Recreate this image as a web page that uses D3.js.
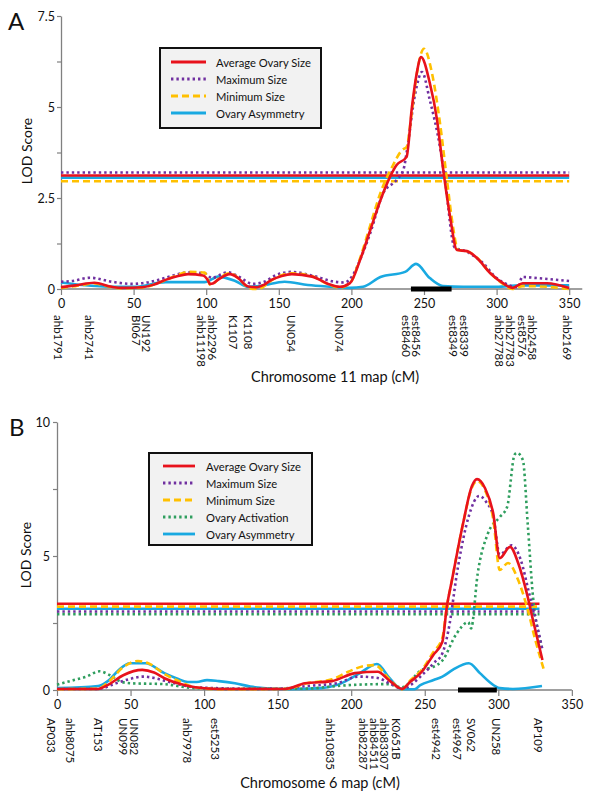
<!DOCTYPE html>
<html><head><meta charset="utf-8">
<script src="https://cdn.jsdelivr.net/npm/d3@7"></script>
<style>
body{margin:0;background:#fff;}
text{font-family:Lato,"Open Sans",sans-serif;fill:#111;}
</style></head>
<body><svg id="chart" width="600" height="800"></svg>
<script>
// ---------------- DATA ----------------
// Panel A: Chromosome 11
const aAvgSize = [[0,0.05],[10,0.1],[23,0.17],[35,0.06],[42,0.03],[56,0.05],[64,0.12],[72,0.25],[80,0.35],[87.5,0.41],[97.8,0.37],[101,0.25],[102.6,0.14],[105,0.16],[108,0.25],[116.4,0.41],[122,0.3],[128.8,0.07],[135,0.05],[140,0.12],[145,0.25],[152,0.36],[159,0.41],[173,0.34],[184,0.14],[192,0.06],[199,0.16],[206,0.8],[213,1.62],[220,2.44],[226.6,3.08],[231,3.4],[238,3.63],[241.7,5.0],[245,5.93],[248,6.37],[254,5.66],[259,4.64],[263,3.35],[268,1.98],[272.7,1.07],[279.6,1.04],[286.5,0.85],[295.5,0.44],[304.4,0.16],[311,0.03],[318,0.16],[334.7,0.16],[350,0.03]];
const aMaxSize = [[0,0.2],[8,0.22],[20,0.31],[35,0.2],[49,0.14],[58,0.17],[67,0.25],[78,0.38],[87.5,0.46],[99,0.43],[104,0.3],[109,0.38],[115,0.46],[122,0.35],[132,0.14],[140,0.2],[148,0.38],[159,0.47],[172,0.38],[188.7,0.2],[195,0.18],[201,0.38],[207,0.9],[213,1.54],[222,2.64],[231,2.99],[236,3.3],[238,3.74],[244,5.38],[248.6,5.96],[254,5.19],[261,3.9],[264.5,2.99],[271,1.15],[279.6,1.02],[290.6,0.71],[300,0.3],[309,0.1],[315,0.05],[317.5,0.33],[328,0.3],[350,0.22]];
const aMinSize = [[0,0.03],[10,0.08],[23,0.15],[35,0.05],[42,0.02],[56,0.04],[64,0.12],[73.7,0.27],[80,0.38],[87.5,0.47],[99,0.45],[101,0.28],[102.6,0.12],[105,0.15],[108,0.26],[116.4,0.43],[122,0.3],[128.8,0.04],[132,0.0],[136,0.0],[145,0.24],[152,0.38],[159,0.43],[173,0.35],[184,0.13],[192,0.04],[199,0.16],[206,0.85],[213,1.75],[220,2.64],[228,3.35],[235,3.82],[238,3.9],[241.7,4.9],[245,5.9],[250,6.6],[255.5,5.93],[261,4.56],[265.8,3.0],[270,1.7],[273.4,1.07],[279.6,1.04],[286.5,0.86],[295.5,0.44],[304.4,0.14],[311,0.0],[318,0.08],[334.7,0.06],[350,0.0]];
const aAsym = [[0,0.18],[14.6,0.11],[37,0.06],[51,0.06],[72,0.19],[99,0.19],[104,0.27],[108,0.34],[120,0.22],[129,0.06],[138,0.09],[154,0.2],[170,0.11],[186.6,0.06],[199,0.03],[208,0.06],[220,0.33],[237,0.47],[244.5,0.69],[254,0.3],[263,0.08],[277,0.06],[300,0.06],[316,0.1],[350,0.1]];
const aThresholds = {avg:3.12, max:3.2, min:2.96, asym:3.06};
const aThresholdEnd = 350;
const aInterval = [241, 269];
const aMarkerPos = [-2, 19.3, 55.4, 100.5, 118.5, 128.8, 159, 191.5, 241.4, 274, 305.8, 321.3, 348.5];
const aMarkerNames = [["ahb1791"],["ahb2741"],["UN192","BI067"],["ahb2296","ahb11198"],["K1107"],["K1108"],["UN054"],["UN074"],["est8456","est8460"],["est8339","est8349"],["ahb27783","ahb27788"],["ahb2458","est8576"],["ahb2169"]];
const aYTicks = [0,1.25,2.5,3.75,5,6.25,7.5];
const aYLabels = ["0","","2.5","","5","","7.5"];
const xTicks = [0,50,100,150,200,250,300,350];

// Panel B: Chromosome 6
const bAvgSize = [[0,0.04],[28,0.04],[35,0.2],[45,0.55],[58,0.75],[66,0.65],[73,0.44],[84,0.22],[94,0.1],[110,0.04],[155,0.04],[168.6,0.25],[187,0.33],[202.6,0.63],[218,0.68],[226,0.35],[234.5,0.04],[240,0.3],[248,0.68],[255.7,1.3],[262,1.8],[265,3.1],[268.5,4.1],[276,6.2],[282,7.6],[285.5,7.87],[291,7.53],[296.5,6.6],[301,4.92],[308,5.34],[313.5,4.74],[320,3.47],[323.6,2.6],[330,1.12]];
const bMaxSize = [[0,0.04],[28,0.04],[40,0.25],[50,0.42],[58.5,0.5],[66,0.45],[73,0.35],[84,0.2],[94,0.1],[130,0.05],[150,0.05],[170,0.15],[190,0.25],[205,0.5],[218,0.45],[226,0.25],[234.5,0.05],[248,0.55],[256,1.0],[262,1.37],[266,2.2],[272.6,4.6],[280,6.5],[287,7.24],[292,7.0],[296.5,6.5],[301,5.05],[309,5.4],[315,4.9],[321,3.6],[326,2.5],[330,1.5]];
const bMinSize = [[0,0.03],[28,0.05],[35,0.3],[45,0.85],[55,1.08],[62,1.0],[73,0.6],[84,0.3],[94,0.1],[110,0.03],[155,0.04],[170,0.25],[187,0.4],[198,0.68],[209,0.9],[216,0.93],[226,0.4],[234.5,0.03],[240,0.35],[248,0.75],[255.7,1.4],[262,1.95],[265,3.1],[268.5,4.1],[276,6.2],[282,7.55],[285.5,7.8],[291,7.45],[296.5,6.4],[301,4.48],[306.6,4.74],[313.5,4.1],[320,3.0],[325,1.9],[331,0.75]];
const bActivation = [[0,0.2],[10,0.35],[20,0.5],[29,0.7],[36,0.55],[44,0.3],[51,0.25],[73,0.22],[85,0.12],[94,0.07],[120,0.04],[170,0.05],[190,0.15],[205,0.2],[225,0.22],[234.5,0.1],[248,0.75],[255.7,0.86],[262,1.1],[271.6,2.1],[279.6,2.53],[281.5,2.3],[286,4.35],[293,5.85],[301,6.45],[306,6.83],[311,8.77],[312.6,8.85],[316.7,8.58],[320,6.2],[323.6,3.47],[328.3,1.87],[330,1.5]];
const bAsym = [[0,0.07],[28,0.15],[35,0.35],[42,0.75],[49.6,1.0],[60,1.0],[73,0.63],[82,0.42],[89,0.3],[95,0.3],[102,0.37],[110,0.33],[121,0.25],[134.6,0.1],[157,0.03],[180,0.07],[191,0.2],[205,0.6],[217.5,0.97],[226,0.45],[234.5,0.03],[243,0.03],[247,0.18],[256,0.37],[262,0.5],[269,0.75],[280,1.0],[287.5,0.63],[294,0.3],[301,0.07],[310,0.04],[329.7,0.15]];
const bThresholds = {avg:3.22, max:2.93, min:3.11, act:2.83, asym:3.03};
const bThresholdEnd = 328;
const bInterval = [272.6, 299];
const bMarkerPos = [-3.4, 9.5, 27.9, 49, 89, 108, 185.6, 215.5, 231, 258.3, 272.6, 282, 299, 327];
const bMarkerNames = [["AP033"],["ahb8075"],["AT153"],["UN082","UN099"],["ahb7978"],["est5253"],["ahb10835"],["ahb83307","ahb84511","ahb82287"],["K0651B"],["est4942"],["est4967"],["SV062"],["UN258"],["AP109"]];
const bYTicks = [0,2.5,5,7.5,10];
const bYLabels = ["0","","5","","10"];

const seriesNames = {avg:"Average Ovary Size", max:"Maximum Size", min:"Minimum Size", act:"Ovary Activation", asym:"Ovary Asymmetry"};

// ---------------- STYLES ----------------
const styles = {
  avg:  {color:"#e8121c", dash:null, width:2.6},
  max:  {color:"#7030a0", dash:"2.4,3", width:2.6},
  min:  {color:"#ffc000", dash:"7,4", width:2.6},
  act:  {color:"#2f9e5e", dash:"2.4,3", width:2.6},
  asym: {color:"#19a9e1", dash:null, width:2.6}
};

const svg = d3.select("#chart");

function drawPanel(cfg){
  const g = svg.append("g");
  const x = d3.scaleLinear().domain([0,350]).range(cfg.xRange);
  const y = d3.scaleLinear().domain(cfg.yDomain).range(cfg.yRange);

  // y axis
  const yAxis = d3.axisLeft(y).tickValues(cfg.yTicks)
    .tickFormat((d,i)=>cfg.yLabels[i]).tickSize(4).tickSizeOuter(0);
  const ya = g.append("g").attr("transform",`translate(${cfg.xRange[0]},0)`).call(yAxis);
  ya.select(".domain").attr("stroke","#808080").attr("stroke-width",1.3);
  ya.selectAll(".tick line").attr("stroke","#808080").attr("stroke-width",1.2);
  ya.selectAll(".tick text").attr("font-size",12.5).attr("font-family","Lato, sans-serif").attr("fill","#222").attr("x",cfg.yLabelX);

  // x axis
  const xAxis = d3.axisBottom(x).tickValues(xTicks).tickSize(6).tickSizeOuter(0);
  const xa = g.append("g").attr("transform",`translate(0,${cfg.yRange[0]})`).call(xAxis);
  xa.select(".domain").remove();
  xa.append("line").attr("x1",x(0)).attr("x2",x(cfg.xAxisEnd)).attr("stroke","#808080").attr("stroke-width",1.3);
  xa.selectAll(".tick line").attr("stroke","#808080").attr("stroke-width",1.2);
  xa.selectAll(".tick text").attr("font-size",12.5).attr("font-family","Lato, sans-serif").attr("fill","#222").attr("y",10);

  // thresholds
  cfg.order.forEach(k=>{
    const s = styles[k];
    g.append("line").attr("x1",x(0)).attr("x2",x(cfg.thresholdEnd))
      .attr("y1",y(cfg.thresholds[k])).attr("y2",y(cfg.thresholds[k]))
      .attr("stroke",s.color).attr("stroke-width",s.width).attr("stroke-dasharray",s.dash);
  });

  // curves
  const line = d3.line().x(d=>x(d[0])).y(d=>y(d[1])).curve(d3.curveMonotoneX);
  cfg.order.forEach(k=>{
    const s = styles[k];
    g.append("path").datum(cfg.series[k]).attr("d",line).attr("fill","none")
      .attr("stroke",s.color).attr("stroke-width",s.width).attr("stroke-dasharray",s.dash)
      .attr("stroke-linejoin","round");
  });

  // interval bar
  g.append("rect").attr("x",x(cfg.interval[0])).attr("width",x(cfg.interval[1])-x(cfg.interval[0]))
    .attr("y",cfg.yRange[0]-2.5).attr("height",5).attr("fill","#000");

  // marker labels
  const lineGap = 10.5;
  cfg.markerPos.forEach((p,i)=>{
    const names = cfg.markerNames[i];
    names.forEach((nm,j)=>{
      const off = (j-(names.length-1)/2)*lineGap; // positive -> shift left on page
      g.append("text")
        .attr("transform",`translate(${x(p)-off},${cfg.yRange[0]+cfg.markerTop}) rotate(90)`)
        .attr("dominant-baseline","central").attr("font-size",11.5)
        .text(nm);
    });
  });

  // axis titles
  g.append("text").attr("transform",`translate(${cfg.yTitleX},${cfg.yTitleY}) rotate(-90)`)
    .attr("text-anchor","middle").attr("dominant-baseline","central").attr("font-size",14).text("LOD Score");
  g.append("text").attr("x",cfg.xTitleX).attr("y",cfg.xTitleY).attr("text-anchor","middle")
    .attr("font-size",14.5).text(cfg.xTitle);
  g.append("text").attr("x",cfg.letterX).attr("y",cfg.letterY).attr("font-size",24).text(cfg.letter);

  // legend
  const L = cfg.legend;
  g.append("rect").attr("x",L.x).attr("y",L.y).attr("width",L.w).attr("height",L.h)
    .attr("fill","#f2f2f2").attr("stroke","#111").attr("stroke-width",2);
  cfg.legendOrder.forEach((k,i)=>{
    const s = styles[k];
    const yy = L.y + L.first + i*L.step;
    g.append("line").attr("x1",L.x+L.lx1).attr("x2",L.x+L.lx2).attr("y1",yy).attr("y2",yy)
      .attr("stroke",s.color).attr("stroke-width",2.8).attr("stroke-dasharray",s.dash);
    g.append("text").attr("x",L.x+L.tx).attr("y",yy).attr("dominant-baseline","central")
      .attr("font-size",11.2).text(seriesNames[k]);
  });
}

drawPanel({
  letter:"A", letterX:8, letterY:30,
  xRange:[61, 61+350*1.452], yRange:[289,16], yDomain:[0,7.5],
  yTicks:aYTicks, yLabels:aYLabels, yLabelX:-6, xAxisEnd:359,
  series:{avg:aAvgSize, max:aMaxSize, min:aMinSize, asym:aAsym},
  thresholds:aThresholds, thresholdEnd:aThresholdEnd,
  order:["asym","max","min","avg"], legendOrder:["avg","max","min","asym"],
  interval:aInterval, markerPos:aMarkerPos, markerNames:aMarkerNames, markerTop:26,
  yTitleX:26, yTitleY:151, xTitle:"Chromosome 11 map (cM)", xTitleX:335, xTitleY:382,
  legend:{x:160, y:48, w:161, h:80, first:14, step:17, lx1:11, lx2:46, tx:56}
});

drawPanel({
  letter:"B", letterX:9, letterY:436,
  xRange:[57, 57+350*1.471], yRange:[690,422], yDomain:[0,10],
  yTicks:bYTicks, yLabels:bYLabels, yLabelX:-7, xAxisEnd:350,
  series:{avg:bAvgSize, max:bMaxSize, min:bMinSize, act:bActivation, asym:bAsym},
  thresholds:bThresholds, thresholdEnd:bThresholdEnd,
  order:["asym","act","max","min","avg"], legendOrder:["avg","max","min","act","asym"],
  interval:bInterval, markerPos:bMarkerPos, markerNames:bMarkerNames, markerTop:28,
  yTitleX:25, yTitleY:555, xTitle:"Chromosome 6 map (cM)", xTitleX:320, xTitleY:788,
  legend:{x:149, y:453, w:163, h:92, first:13, step:17, lx1:14, lx2:46, tx:57}
});
</script>
</body></html>
